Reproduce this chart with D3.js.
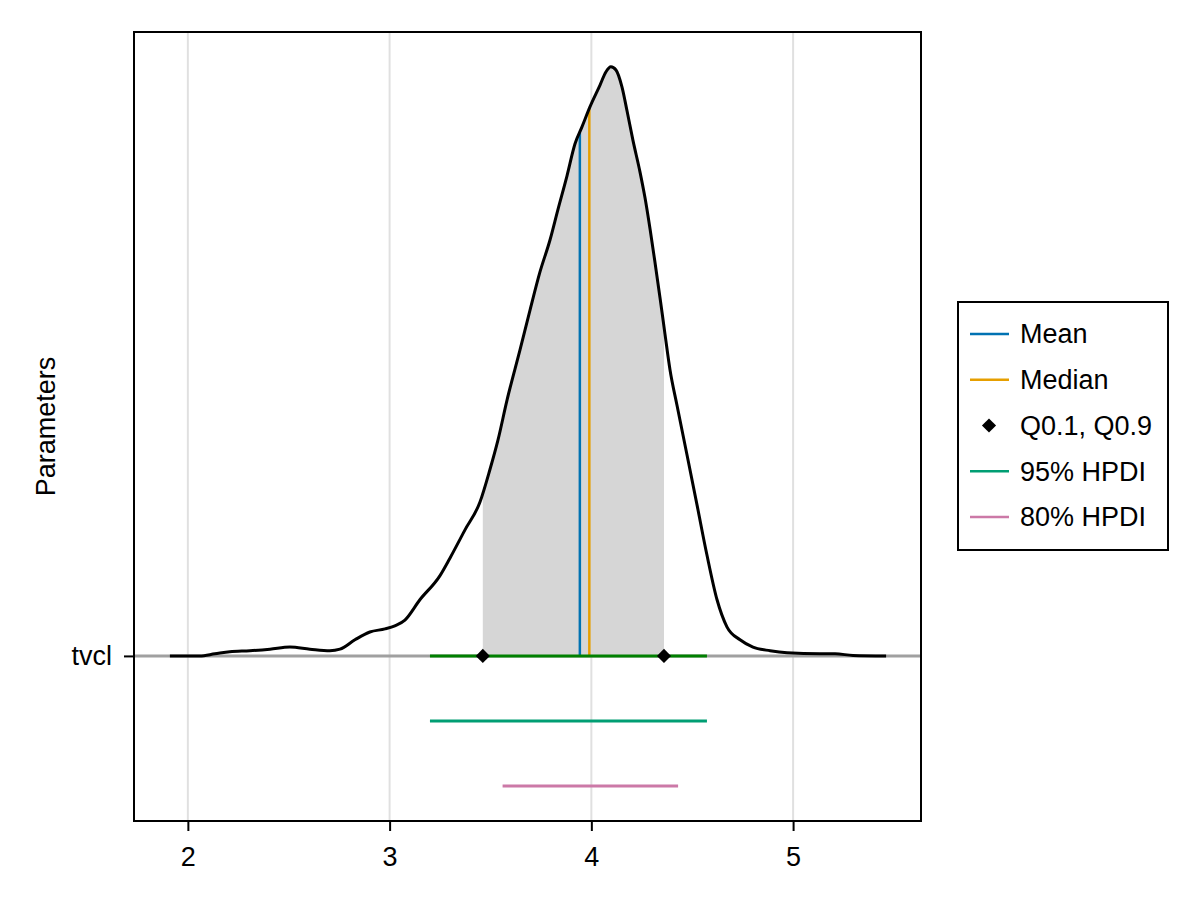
<!DOCTYPE html>
<html>
<head>
<meta charset="utf-8">
<script src="https://cdn.jsdelivr.net/npm/d3@7"></script>
<style>
  html, body { margin: 0; padding: 0; background: #fff; }
  svg { display: block; font-family: "Liberation Sans", Arial, Helvetica, sans-serif; }
</style>
</head>
<body>
<svg id="chart" width="1200" height="900"></svg>
<script>
// ---------------- DATA ----------------
const categories = ["tvcl"];
const densityX = [1.911, 2.059, 2.134, 2.208, 2.307, 2.407, 2.506, 2.605, 2.704, 2.754, 2.828, 2.902, 2.977, 3.026, 3.076, 3.150, 3.249, 3.299, 3.373, 3.448, 3.497, 3.537, 3.582, 3.646, 3.696, 3.745, 3.795, 3.834, 3.879, 3.919, 3.953, 3.993, 4.043, 4.072, 4.097, 4.122, 4.152, 4.177, 4.206, 4.241, 4.266, 4.291, 4.315, 4.340, 4.365, 4.390, 4.424, 4.474, 4.524, 4.573, 4.623, 4.672, 4.737, 4.801, 4.886, 4.970, 5.133, 5.208, 5.297, 5.461];
const densityY = [0.000, 0.000, 0.004, 0.008, 0.010, 0.013, 0.017, 0.013, 0.010, 0.013, 0.031, 0.046, 0.052, 0.058, 0.069, 0.108, 0.154, 0.188, 0.242, 0.296, 0.358, 0.415, 0.492, 0.588, 0.665, 0.738, 0.800, 0.858, 0.923, 0.985, 1.017, 1.056, 1.098, 1.123, 1.133, 1.127, 1.094, 1.048, 0.992, 0.931, 0.881, 0.821, 0.758, 0.690, 0.619, 0.550, 0.483, 0.387, 0.290, 0.194, 0.108, 0.056, 0.031, 0.017, 0.010, 0.006, 0.004, 0.004, 0.001, 0.000];
const meanValue = 3.943;
const medianValue = 3.990;
const quantileValues = [3.462, 4.360];     // Q0.1, Q0.9
const hpdi95 = [3.200, 4.573];
const hpdi80 = [3.560, 4.430];
const xTickValues = [2, 3, 4, 5];
const legendLabels = ["Mean", "Median", "Q0.1, Q0.9", "95% HPDI", "80% HPDI"];

// ---------------- LAYOUT ----------------
const colors = { mean: "#0072B2", median: "#E69F00", hpdi95: "#009E73", hpdi80: "#CC79A7" };
const plot = { left: 134, right: 921, top: 32, bottom: 821 };
const densityHeight = 2.0;   // row units per density unit
const offset95 = -0.25, offset80 = -0.5;
const FS = 27;

const svg = d3.select("#chart");
const x = d3.scaleLinear().domain([1.733, 5.634]).range([plot.left, plot.right]);
const y = d3.scaleLinear().domain([-0.635, 2.4]).range([plot.bottom, plot.top]);
const rowPos = d3.scaleOrdinal().domain(categories).range([0]);

const density = densityX.map((v, i) => ({ x: v, d: densityY[i] }));
function densAt(v) {
  const i = d3.bisectLeft(densityX, v);
  if (i <= 0) return densityY[0];
  if (i >= densityX.length) return densityY[densityY.length - 1];
  const t = (v - densityX[i - 1]) / (densityX[i] - densityX[i - 1]);
  return densityY[i - 1] + t * (densityY[i] - densityY[i - 1]);
}
const row0 = rowPos(categories[0]);
const yD = d => y(row0 + d * densityHeight);

// gridlines
svg.append("g").selectAll("line").data(xTickValues).join("line")
  .attr("x1", d => x(d)).attr("x2", d => x(d))
  .attr("y1", plot.top).attr("y2", plot.bottom)
  .attr("stroke", "rgba(0,0,0,0.12)").attr("stroke-width", 2);

// baseline gray line
svg.append("line")
  .attr("x1", plot.left).attr("x2", plot.right)
  .attr("y1", y(row0)).attr("y2", y(row0))
  .attr("stroke", "#a0a0a0").attr("stroke-width", 3);

// shaded area between quantiles
const shaded = [{ x: quantileValues[0], d: densAt(quantileValues[0]) }]
  .concat(density.filter(p => p.x > quantileValues[0] && p.x < quantileValues[1]))
  .concat([{ x: quantileValues[1], d: densAt(quantileValues[1]) }]);
svg.append("path").datum(shaded)
  .attr("d", d3.area().x(p => x(p.x)).y0(y(row0)).y1(p => yD(p.d)).curve(d3.curveMonotoneX))
  .attr("fill", "#d6d6d6");

// mean & median lines
svg.append("line")
  .attr("x1", x(meanValue)).attr("x2", x(meanValue))
  .attr("y1", y(row0)).attr("y2", yD(densAt(meanValue)))
  .attr("stroke", colors.mean).attr("stroke-width", 2.5);
svg.append("line")
  .attr("x1", x(medianValue)).attr("x2", x(medianValue))
  .attr("y1", y(row0)).attr("y2", yD(densAt(medianValue)))
  .attr("stroke", colors.median).attr("stroke-width", 2.5);

// density curve
svg.append("path").datum(density)
  .attr("d", d3.line().x(p => x(p.x)).y(p => yD(p.d)).curve(d3.curveMonotoneX))
  .attr("fill", "none").attr("stroke", "#000").attr("stroke-width", 3)
  .attr("stroke-linejoin", "round");

// green HPDI on baseline
svg.append("line")
  .attr("x1", x(hpdi95[0])).attr("x2", x(hpdi95[1]))
  .attr("y1", y(row0)).attr("y2", y(row0))
  .attr("stroke", "#008000").attr("stroke-width", 3);

// quantile diamonds
const diamond = d3.symbol().type(d3.symbolSquare).size(100);
svg.append("g").selectAll("path").data(quantileValues).join("path")
  .attr("d", diamond)
  .attr("transform", d => `translate(${x(d)},${y(row0)}) rotate(45)`)
  .attr("fill", "#000");

// HPDI lines below
svg.append("line")
  .attr("x1", x(hpdi95[0])).attr("x2", x(hpdi95[1]))
  .attr("y1", y(row0 + offset95)).attr("y2", y(row0 + offset95))
  .attr("stroke", colors.hpdi95).attr("stroke-width", 3);
svg.append("line")
  .attr("x1", x(hpdi80[0])).attr("x2", x(hpdi80[1]))
  .attr("y1", y(row0 + offset80)).attr("y2", y(row0 + offset80))
  .attr("stroke", colors.hpdi80).attr("stroke-width", 3);

// frame
svg.append("rect")
  .attr("x", plot.left).attr("y", plot.top)
  .attr("width", plot.right - plot.left).attr("height", plot.bottom - plot.top)
  .attr("fill", "none").attr("stroke", "#000").attr("stroke-width", 2);

// x axis
const xAxis = d3.axisBottom(x).tickValues(xTickValues).tickSize(10).tickPadding(16).tickFormat(d3.format("d"));
const gx = svg.append("g").attr("transform", `translate(0,${plot.bottom})`).call(xAxis);
gx.select(".domain").remove();
gx.selectAll(".tick line").attr("stroke", "#000").attr("stroke-width", 2);
gx.selectAll(".tick text").attr("font-size", FS).attr("fill", "#000")
  .attr("font-family", "'Liberation Sans', Arial, sans-serif");

// y axis
const yAxis = d3.axisLeft(y).tickValues([row0]).tickSize(10).tickPadding(12).tickFormat(() => categories[0]);
const gy = svg.append("g").attr("transform", `translate(${plot.left},0)`).call(yAxis);
gy.select(".domain").remove();
gy.selectAll(".tick line").attr("stroke", "#000").attr("stroke-width", 2);
gy.selectAll(".tick text").attr("font-size", FS).attr("fill", "#000")
  .attr("font-family", "'Liberation Sans', Arial, sans-serif");

// y axis label
svg.append("text")
  .attr("transform", `translate(55,${(plot.top + plot.bottom) / 2}) rotate(-90)`)
  .attr("text-anchor", "middle")
  .attr("font-size", FS).attr("fill", "#000")
  .text("Parameters");

// legend
const lg = svg.append("g");
lg.append("rect").attr("x", 958).attr("y", 302).attr("width", 210).attr("height", 248)
  .attr("fill", "#fff").attr("stroke", "#000").attr("stroke-width", 2);
const legendItems = [
  { label: legendLabels[0], type: "line", color: colors.mean },
  { label: legendLabels[1], type: "line", color: colors.median },
  { label: legendLabels[2], type: "marker", color: "#000" },
  { label: legendLabels[3], type: "line", color: colors.hpdi95 },
  { label: legendLabels[4], type: "line", color: colors.hpdi80 }
];
const ly = d3.scalePoint().domain(d3.range(legendItems.length)).range([334, 517]);
legendItems.forEach((it, i) => {
  const yy = ly(i);
  if (it.type === "line") {
    lg.append("line").attr("x1", 970).attr("x2", 1009).attr("y1", yy).attr("y2", yy)
      .attr("stroke", it.color).attr("stroke-width", 2.5);
  } else {
    lg.append("path").attr("d", diamond).attr("transform", `translate(989,${yy}) rotate(45)`).attr("fill", it.color);
  }
  lg.append("text").attr("x", 1020).attr("y", yy).attr("dy", "0.35em")
    .attr("font-size", FS).attr("fill", "#000").text(it.label);
});
</script>
</body>
</html>
